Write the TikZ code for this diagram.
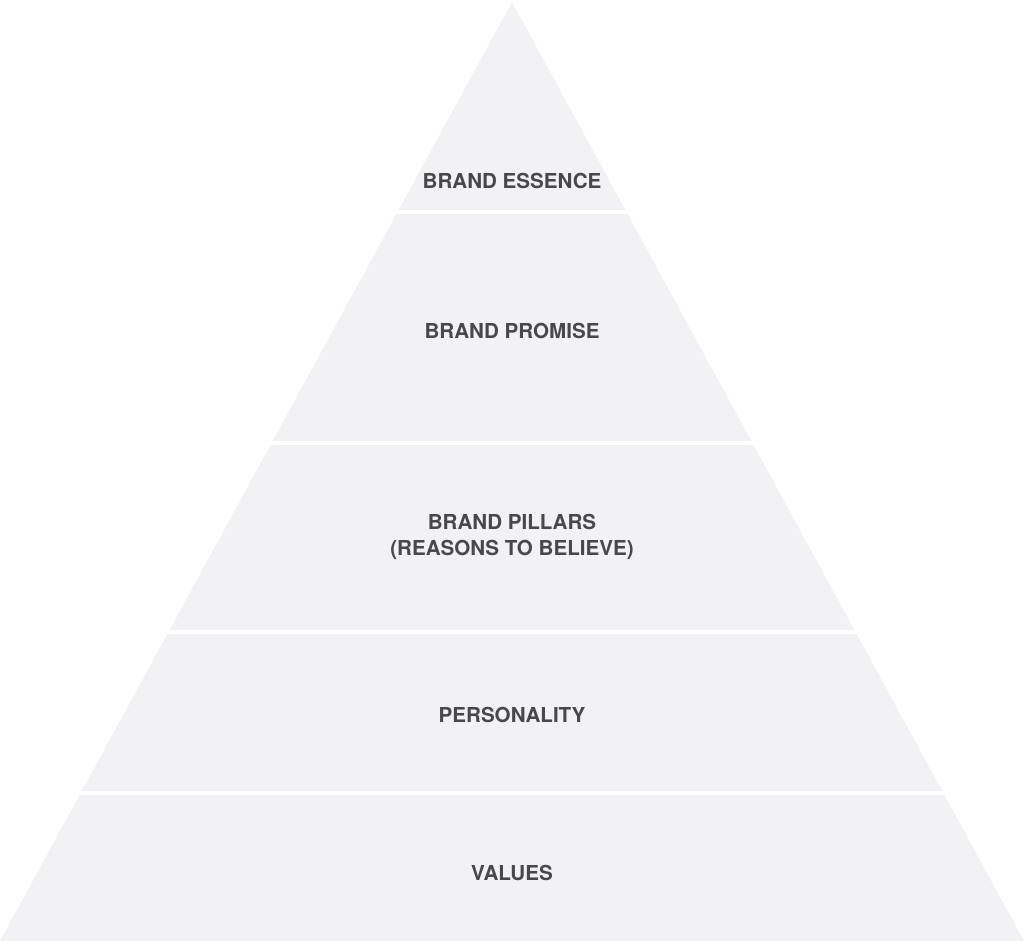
\documentclass[tikz,border=0pt]{standalone}
\usepackage{fontspec}
\setmainfont{TeX Gyre Heros}
\usepackage{xcolor}
\usepackage{tikz}
\usetikzlibrary{positioning}

\definecolor{layerfill}{HTML}{F2F2F4}
\definecolor{labelgrey}{HTML}{48484A}

\begin{document}
\begin{tikzpicture}[x=1pt,y=-1pt]

\tikzset{layerlabel/.style={text=labelgrey, font=\fontsize{20.6}{26}\selectfont\bfseries, align=center, inner sep=0pt}}

\useasboundingbox (0,0) rectangle (1024,944);

%layers of the pyramid
\begin{scope}
\clip (512,2) -- (1024,941) -- (0,941) -- cycle;
\foreach \t/\b in {2/210, 214/441, 445/630, 634/791, 795/941}
\fill[layerfill] (0,\t) rectangle (1024,\b);
\end{scope}

\node[layerlabel] (essence) at (512,181) {BRAND ESSENCE};
\node[layerlabel] (promise) at (512,331) {BRAND PROMISE};
\node[layerlabel] (pillars) at (512,537) {BRAND PILLARS\\(REASONS TO BELIEVE)};
\node[layerlabel] (personality) at (512,715) {PERSONALITY};
\node[layerlabel] (values) at (512,873) {VALUES};

\end{tikzpicture}
\end{document}
